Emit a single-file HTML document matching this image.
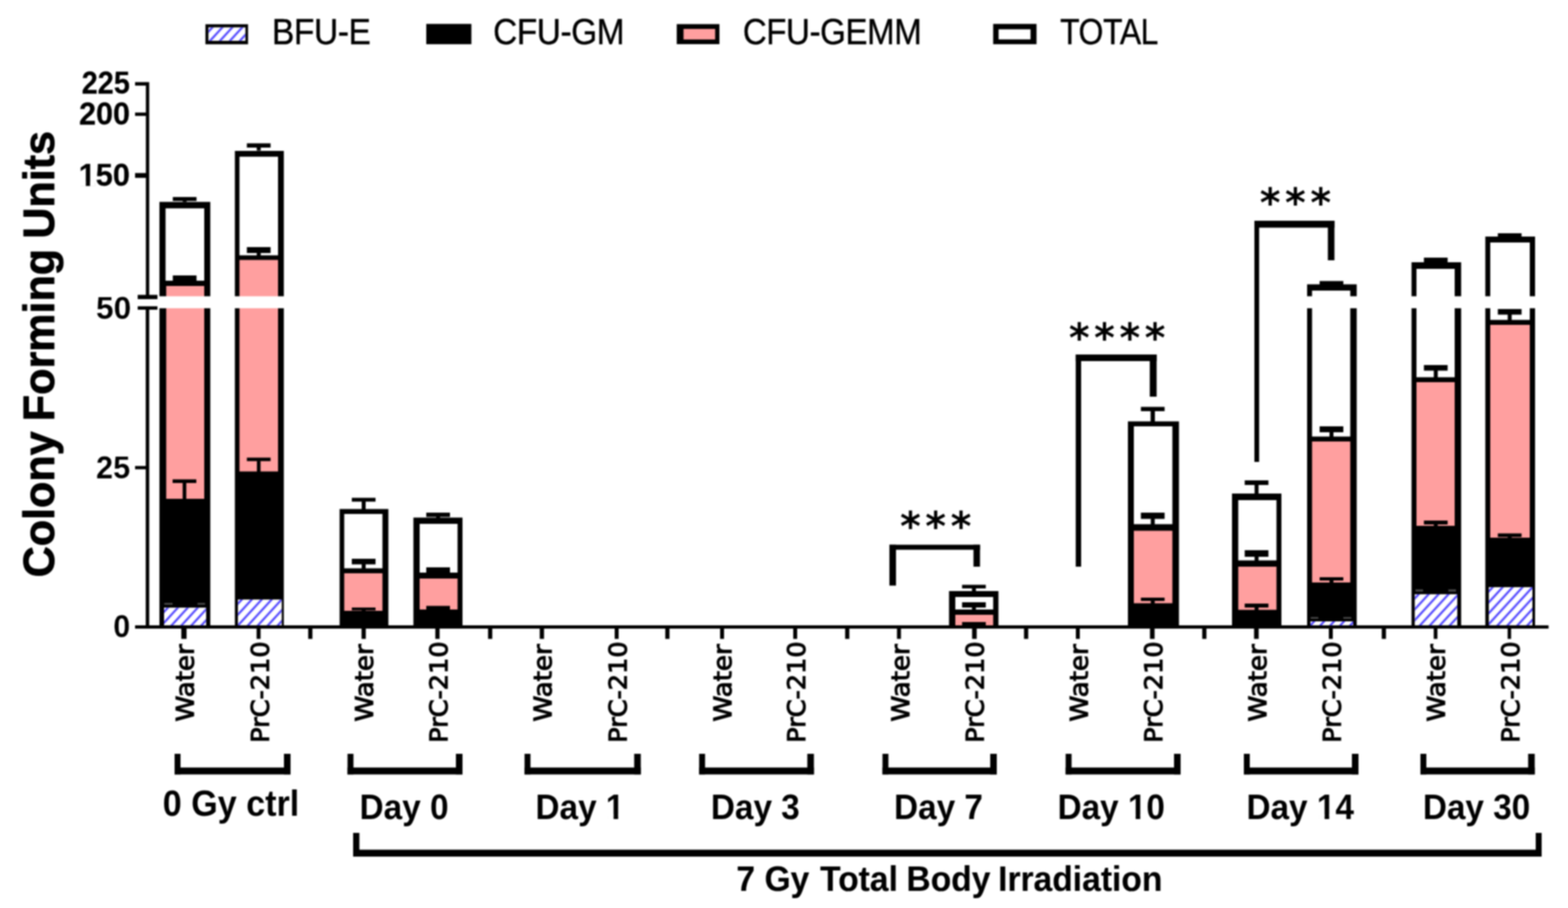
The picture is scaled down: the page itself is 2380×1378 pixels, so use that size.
<!DOCTYPE html>
<html lang="en">
<head>
<meta charset="utf-8">
<title>Colony Forming Units</title>
<style>
html,body{margin:0;padding:0;background:#fff;}
body{width:2380px;height:1378px;overflow:hidden;}
svg{display:block;filter:blur(0.9px);}
text{fill:#000;}
</style>
</head>
<body>
<svg width="2380" height="1378" viewBox="0 0 2380 1378">
<defs>
<pattern id="h" patternUnits="userSpaceOnUse" width="15.1" height="16.5">
<rect width="15.1" height="16.5" fill="#fff"/>
<path d="M-15.10 6.20 L30.20 -43.30 M-15.10 22.70 L30.20 -26.80 M-15.10 39.20 L30.20 -10.30 M-15.10 55.70 L30.20 6.20" stroke="#5046ff" stroke-width="3.2" fill="none"/>
</pattern>
</defs>
<rect width="2380" height="1378" fill="#fff"/>
<g id="legend">
<rect x="311.8" y="36.8" width="64.7" height="30.4" fill="#000"/>
<g transform="translate(316.60 41.70)"><rect width="55.70" height="20.10" fill="#fff"/><rect width="55.70" height="20.10" fill="url(#h)"/></g>
<rect x="647" y="36.3" width="68.5" height="30.8" fill="#000"/>
<rect x="1027.2" y="36.6" width="64.8" height="30.4" fill="#000"/><rect x="1037.5" y="43.9" width="48" height="16" fill="#ff9f9f"/>
<rect x="1507.5" y="36.3" width="65.8" height="30.8" fill="#000"/><rect x="1515.7" y="44.5" width="48.5" height="15.3" fill="#fff"/>
</g>
<g id="chart" shape-rendering="geometricPrecision">
<rect x="242.00" y="306.40" width="77.20" height="643.60" fill="#000"/>
<rect x="251.30" y="316.20" width="58.70" height="109.80" fill="#fff"/>
<rect x="252.30" y="434.00" width="57.70" height="323.00" fill="#ff9f9f"/>
<g transform="translate(249.00 922.40)"><rect width="63.70" height="26.60" fill="#fff"/><rect width="63.70" height="26.60" fill="url(#h)"/></g>
<rect x="262.30" y="299.00" width="36.00" height="6.00" fill="#000"/>
<rect x="277.30" y="304.50" width="6.00" height="2.00" fill="#000"/>
<rect x="262.30" y="418.00" width="36.00" height="8.50" fill="#000"/>
<rect x="262.00" y="727.50" width="36.00" height="5.50" fill="#000"/>
<rect x="277.25" y="732.50" width="5.50" height="25.00" fill="#000"/>
<rect x="249.40" y="915.00" width="12.60" height="2.70" fill="#4a4a4a"/>
<rect x="299.80" y="915.00" width="11.50" height="2.70" fill="#4a4a4a"/>
<rect x="356.50" y="229.00" width="74.30" height="721.00" fill="#000"/>
<rect x="363.50" y="237.80" width="58.50" height="149.70" fill="#fff"/>
<rect x="363.50" y="394.50" width="58.50" height="321.00" fill="#ff9f9f"/>
<g transform="translate(361.30 909.90)"><rect width="66.10" height="39.10" fill="#fff"/><rect width="66.10" height="39.10" fill="url(#h)"/></g>
<rect x="374.70" y="217.50" width="36.00" height="6.50" fill="#000"/>
<rect x="389.70" y="223.50" width="6.00" height="5.00" fill="#000"/>
<rect x="374.70" y="375.00" width="36.00" height="9.00" fill="#000"/>
<rect x="389.70" y="383.50" width="6.00" height="5.00" fill="#000"/>
<rect x="374.70" y="694.50" width="36.00" height="5.30" fill="#000"/>
<rect x="389.95" y="699.30" width="5.50" height="16.70" fill="#000"/>
<rect x="515.50" y="772.50" width="74.00" height="177.50" fill="#000"/>
<rect x="522.50" y="780.00" width="58.00" height="82.50" fill="#fff"/>
<rect x="522.50" y="870.00" width="58.00" height="57.00" fill="#ff9f9f"/>
<rect x="534.00" y="755.50" width="36.00" height="5.80" fill="#000"/>
<rect x="549.00" y="760.80" width="6.00" height="12.70" fill="#000"/>
<rect x="534.00" y="848.00" width="36.00" height="8.50" fill="#000"/>
<rect x="549.00" y="856.00" width="6.00" height="7.50" fill="#000"/>
<rect x="534.00" y="922.00" width="36.00" height="4.30" fill="#000"/>
<rect x="549.00" y="925.80" width="6.00" height="1.70" fill="#000"/>
<rect x="627.50" y="785.50" width="74.50" height="164.50" fill="#000"/>
<rect x="637.00" y="795.00" width="57.50" height="74.00" fill="#fff"/>
<rect x="637.00" y="878.00" width="57.50" height="47.00" fill="#ff9f9f"/>
<rect x="647.00" y="778.00" width="36.00" height="6.50" fill="#000"/>
<rect x="662.00" y="784.00" width="6.00" height="2.50" fill="#000"/>
<rect x="647.00" y="861.00" width="36.00" height="8.00" fill="#000"/>
<rect x="647.00" y="919.50" width="36.00" height="5.50" fill="#000"/>
<rect x="1440.50" y="897.00" width="75.00" height="53.00" fill="#000"/>
<rect x="1450.00" y="906.00" width="57.50" height="19.00" fill="#fff"/>
<rect x="1450.00" y="933.00" width="57.50" height="16.00" fill="#ff9f9f"/>
<rect x="1460.30" y="887.50" width="36.00" height="5.50" fill="#000"/>
<rect x="1475.30" y="892.50" width="6.00" height="5.00" fill="#000"/>
<rect x="1460.30" y="914.00" width="36.00" height="8.00" fill="#000"/>
<rect x="1475.30" y="921.50" width="6.00" height="4.00" fill="#000"/>
<rect x="1460.30" y="944.00" width="36.00" height="5.00" fill="#000"/>
<rect x="1712.00" y="639.50" width="77.50" height="310.50" fill="#000"/>
<rect x="1721.00" y="647.00" width="58.50" height="148.50" fill="#fff"/>
<rect x="1721.00" y="805.50" width="58.50" height="110.00" fill="#ff9f9f"/>
<rect x="1731.70" y="617.50" width="36.00" height="6.50" fill="#000"/>
<rect x="1746.45" y="623.50" width="6.50" height="17.00" fill="#000"/>
<rect x="1731.70" y="778.00" width="36.00" height="9.50" fill="#000"/>
<rect x="1746.70" y="787.00" width="6.00" height="9.50" fill="#000"/>
<rect x="1731.70" y="907.00" width="36.00" height="5.00" fill="#000"/>
<rect x="1746.70" y="911.50" width="6.00" height="5.00" fill="#000"/>
<rect x="1870.00" y="749.00" width="75.00" height="201.00" fill="#000"/>
<rect x="1879.50" y="759.00" width="58.00" height="91.50" fill="#fff"/>
<rect x="1879.50" y="860.00" width="58.00" height="65.50" fill="#ff9f9f"/>
<rect x="1889.30" y="729.00" width="36.00" height="7.00" fill="#000"/>
<rect x="1904.30" y="735.50" width="6.00" height="14.00" fill="#000"/>
<rect x="1889.30" y="835.00" width="36.00" height="10.00" fill="#000"/>
<rect x="1904.30" y="844.50" width="6.00" height="7.00" fill="#000"/>
<rect x="1889.30" y="916.00" width="36.00" height="6.00" fill="#000"/>
<rect x="1904.30" y="921.50" width="6.00" height="5.00" fill="#000"/>
<rect x="1984.00" y="431.50" width="75.30" height="518.50" fill="#000"/>
<rect x="1991.50" y="441.00" width="58.00" height="221.50" fill="#fff"/>
<rect x="1991.50" y="670.00" width="58.00" height="214.00" fill="#ff9f9f"/>
<g transform="translate(1989.00 943.00)"><rect width="65.00" height="6.00" fill="#fff"/><rect width="65.00" height="6.00" fill="url(#h)"/></g>
<rect x="2003.00" y="426.50" width="36.00" height="5.50" fill="#000"/>
<rect x="2003.00" y="647.00" width="36.00" height="9.00" fill="#000"/>
<rect x="2018.00" y="655.50" width="6.00" height="8.00" fill="#000"/>
<rect x="2003.00" y="876.00" width="36.00" height="5.00" fill="#000"/>
<rect x="2018.00" y="880.50" width="6.00" height="4.00" fill="#000"/>
<rect x="1989.50" y="936.50" width="11.50" height="2.50" fill="#4a4a4a"/>
<rect x="2039.00" y="936.50" width="12.00" height="2.50" fill="#4a4a4a"/>
<rect x="2142.50" y="398.00" width="75.30" height="552.00" fill="#000"/>
<rect x="2150.00" y="408.00" width="58.00" height="164.50" fill="#fff"/>
<rect x="2150.00" y="580.00" width="58.00" height="218.00" fill="#ff9f9f"/>
<g transform="translate(2147.60 901.90)"><rect width="64.20" height="47.10" fill="#fff"/><rect width="64.20" height="47.10" fill="url(#h)"/></g>
<rect x="2161.30" y="391.00" width="36.00" height="8.00" fill="#000"/>
<rect x="2161.30" y="554.00" width="36.00" height="8.50" fill="#000"/>
<rect x="2176.30" y="562.00" width="6.00" height="11.50" fill="#000"/>
<rect x="2161.30" y="790.00" width="36.00" height="6.00" fill="#000"/>
<rect x="2176.30" y="795.50" width="6.00" height="3.00" fill="#000"/>
<rect x="2148.50" y="894.50" width="11.50" height="3.20" fill="#4a4a4a"/>
<rect x="2198.40" y="894.50" width="11.60" height="3.20" fill="#4a4a4a"/>
<rect x="2254.50" y="359.00" width="75.50" height="591.00" fill="#000"/>
<rect x="2262.00" y="368.00" width="60.00" height="117.50" fill="#fff"/>
<rect x="2262.00" y="493.00" width="60.00" height="323.00" fill="#ff9f9f"/>
<g transform="translate(2259.90 891.30)"><rect width="66.10" height="57.70" fill="#fff"/><rect width="66.10" height="57.70" fill="url(#h)"/></g>
<rect x="2273.50" y="354.00" width="36.00" height="5.50" fill="#000"/>
<rect x="2288.50" y="359.00" width="6.00" height="1.50" fill="#000"/>
<rect x="2273.50" y="469.00" width="36.00" height="8.50" fill="#000"/>
<rect x="2288.50" y="477.00" width="6.00" height="9.50" fill="#000"/>
<rect x="2273.50" y="809.50" width="36.00" height="5.50" fill="#000"/>
<rect x="2288.50" y="814.50" width="6.00" height="2.00" fill="#000"/>
<rect x="232.00" y="449.60" width="2113.00" height="18.20" fill="#fff"/>
<rect x="221.40" y="124.60" width="5.10" height="325.90" fill="#000"/>
<rect x="221.20" y="467.00" width="5.30" height="487.00" fill="#000"/>
<rect x="205.00" y="949.00" width="2145.50" height="5.00" fill="#000"/>
<rect x="205.00" y="124.60" width="17.00" height="5.30" fill="#000"/>
<rect x="205.00" y="170.80" width="17.00" height="5.10" fill="#000"/>
<rect x="205.00" y="262.60" width="17.00" height="7.30" fill="#000"/>
<rect x="205.00" y="707.20" width="17.00" height="5.00" fill="#000"/>
<rect x="209.00" y="447.50" width="30.00" height="6.50" fill="#000"/>
<rect x="209.00" y="464.80" width="30.00" height="5.20" fill="#000"/>
<rect x="275.20" y="953.00" width="8.00" height="16.60" fill="#000"/>
<rect x="389.50" y="953.00" width="6.00" height="16.60" fill="#000"/>
<rect x="548.75" y="953.00" width="6.50" height="16.60" fill="#000"/>
<rect x="660.75" y="953.00" width="6.50" height="16.60" fill="#000"/>
<rect x="819.25" y="953.00" width="6.50" height="16.60" fill="#000"/>
<rect x="933.00" y="953.00" width="6.00" height="16.60" fill="#000"/>
<rect x="1093.00" y="953.00" width="6.00" height="16.60" fill="#000"/>
<rect x="1204.00" y="953.00" width="6.00" height="16.60" fill="#000"/>
<rect x="1361.50" y="953.00" width="6.00" height="16.60" fill="#000"/>
<rect x="1475.50" y="953.00" width="7.00" height="16.60" fill="#000"/>
<rect x="1633.00" y="953.00" width="6.00" height="16.60" fill="#000"/>
<rect x="1745.50" y="953.00" width="7.00" height="16.60" fill="#000"/>
<rect x="1903.50" y="953.00" width="7.00" height="16.60" fill="#000"/>
<rect x="2017.00" y="953.00" width="6.00" height="16.60" fill="#000"/>
<rect x="2176.20" y="953.00" width="5.60" height="16.60" fill="#000"/>
<rect x="2288.40" y="953.00" width="5.20" height="16.60" fill="#000"/>
<rect x="467.80" y="953.00" width="6.40" height="16.60" fill="#000"/>
<rect x="740.80" y="953.00" width="6.40" height="16.60" fill="#000"/>
<rect x="1009.80" y="953.00" width="6.40" height="16.60" fill="#000"/>
<rect x="1282.80" y="953.00" width="6.40" height="16.60" fill="#000"/>
<rect x="1554.30" y="953.00" width="6.40" height="16.60" fill="#000"/>
<rect x="1824.80" y="953.00" width="6.40" height="16.60" fill="#000"/>
<rect x="2097.30" y="953.00" width="6.40" height="16.60" fill="#000"/>
<rect x="1350.00" y="826.70" width="10.00" height="62.00" fill="#000"/>
<rect x="1350.00" y="826.70" width="137.50" height="7.60" fill="#000"/>
<rect x="1477.60" y="826.70" width="9.90" height="33.30" fill="#000"/>
<rect x="1632.80" y="538.00" width="8.20" height="322.00" fill="#000"/>
<rect x="1632.80" y="538.00" width="122.80" height="10.00" fill="#000"/>
<rect x="1745.20" y="538.00" width="10.40" height="64.00" fill="#000"/>
<rect x="1904.00" y="335.00" width="7.20" height="366.00" fill="#000"/>
<rect x="1904.00" y="335.00" width="121.50" height="10.50" fill="#000"/>
<rect x="2015.50" y="335.00" width="10.00" height="60.00" fill="#000"/>
<rect x="265.00" y="1144.00" width="9.00" height="31.30" fill="#000"/>
<rect x="431.00" y="1144.00" width="10.00" height="31.30" fill="#000"/>
<rect x="265.00" y="1164.80" width="176.00" height="10.50" fill="#000"/>
<rect x="527.50" y="1144.00" width="9.00" height="31.30" fill="#000"/>
<rect x="692.00" y="1144.00" width="10.00" height="31.30" fill="#000"/>
<rect x="527.50" y="1164.80" width="174.50" height="10.50" fill="#000"/>
<rect x="796.20" y="1144.00" width="9.00" height="31.30" fill="#000"/>
<rect x="962.60" y="1144.00" width="10.00" height="31.30" fill="#000"/>
<rect x="796.20" y="1164.80" width="176.40" height="10.50" fill="#000"/>
<rect x="1061.20" y="1144.00" width="9.00" height="31.30" fill="#000"/>
<rect x="1225.40" y="1144.00" width="10.00" height="31.30" fill="#000"/>
<rect x="1061.20" y="1164.80" width="174.20" height="10.50" fill="#000"/>
<rect x="1339.50" y="1144.00" width="9.00" height="31.30" fill="#000"/>
<rect x="1503.00" y="1144.00" width="10.00" height="31.30" fill="#000"/>
<rect x="1339.50" y="1164.80" width="173.50" height="10.50" fill="#000"/>
<rect x="1617.50" y="1144.00" width="9.00" height="31.30" fill="#000"/>
<rect x="1782.00" y="1144.00" width="10.00" height="31.30" fill="#000"/>
<rect x="1617.50" y="1164.80" width="174.50" height="10.50" fill="#000"/>
<rect x="1888.00" y="1144.00" width="9.00" height="31.30" fill="#000"/>
<rect x="2052.00" y="1144.00" width="10.00" height="31.30" fill="#000"/>
<rect x="1888.00" y="1164.80" width="174.00" height="10.50" fill="#000"/>
<rect x="2156.00" y="1144.00" width="9.00" height="31.30" fill="#000"/>
<rect x="2319.50" y="1144.00" width="10.00" height="31.30" fill="#000"/>
<rect x="2156.00" y="1164.80" width="173.50" height="10.50" fill="#000"/>
<rect x="536.00" y="1264.00" width="9.50" height="36.00" fill="#000"/>
<rect x="2331.00" y="1264.00" width="9.00" height="36.00" fill="#000"/>
<rect x="536.00" y="1289.50" width="1804.00" height="10.50" fill="#000"/>
</g>
<g id="labels">
<g transform="translate(412.80 67.20) scale(1.0200 1.1200)"><text id="t1" font-family="'Liberation Sans', Arial, Helvetica, sans-serif" font-size="50" font-weight="400" text-anchor="start" stroke="#000" stroke-width="0.5" letter-spacing="-0.7">BFU-E</text></g>
<g transform="translate(748.60 67.20) scale(1.0150 1.1200)"><text id="t2" font-family="'Liberation Sans', Arial, Helvetica, sans-serif" font-size="50" font-weight="400" text-anchor="start" stroke="#000" stroke-width="0.5" letter-spacing="-0.7">CFU-GM</text></g>
<g transform="translate(1127.40 67.20) scale(1.0070 1.1200)"><text id="t3" font-family="'Liberation Sans', Arial, Helvetica, sans-serif" font-size="50" font-weight="400" text-anchor="start" stroke="#000" stroke-width="0.5" letter-spacing="-0.7">CFU-GEMM</text></g>
<g transform="translate(1609.00 67.20) scale(0.9720 1.1200)"><text id="t4" font-family="'Liberation Sans', Arial, Helvetica, sans-serif" font-size="50" font-weight="400" text-anchor="start" stroke="#000" stroke-width="0.5" letter-spacing="-0.7">TOTAL</text></g>
<g transform="translate(197.20 142.00) scale(0.9550 1.0600)"><text id="t5" font-family="'Liberation Sans', Arial, Helvetica, sans-serif" font-size="46" font-weight="700" text-anchor="end" stroke="#000" stroke-width="0.3">225</text></g>
<g transform="translate(197.30 189.40) scale(1.0080 1.0550)"><text id="t6" font-family="'Liberation Sans', Arial, Helvetica, sans-serif" font-size="46" font-weight="700" text-anchor="end" stroke="#000" stroke-width="0.3">200</text></g>
<g transform="translate(197.30 281.90) scale(1.0150 1.0550)"><text id="t7" font-family="'Liberation Sans', Arial, Helvetica, sans-serif" font-size="46" font-weight="700" text-anchor="end" stroke="#000" stroke-width="0.3">150</text><rect x="-74.54" y="-5.29" width="8.54" height="6.09" fill="#fff"/><rect x="-59.69" y="-5.29" width="7.95" height="6.09" fill="#fff"/></g>
<g transform="translate(199.00 484.00) scale(1.0400 1.0300)"><text id="t8" font-family="'Liberation Sans', Arial, Helvetica, sans-serif" font-size="46" font-weight="700" text-anchor="end" stroke="#fff" stroke-width="0.15">50</text></g>
<g transform="translate(197.50 726.00) scale(1.0100 1.0300)"><text id="t9" font-family="'Liberation Sans', Arial, Helvetica, sans-serif" font-size="46" font-weight="700" text-anchor="end" stroke="#fff" stroke-width="0.15">25</text></g>
<g transform="translate(197.50 967.00) scale(1.0000 1.0300)"><text id="t10" font-family="'Liberation Sans', Arial, Helvetica, sans-serif" font-size="46" font-weight="700" text-anchor="end" stroke="#fff" stroke-width="0.15">0</text></g>
<g transform="translate(81.90 537.50) rotate(-90) scale(0.9980 1.0200)"><text id="t11" font-family="'Liberation Sans', Arial, Helvetica, sans-serif" font-size="65.5" font-weight="700" text-anchor="middle" word-spacing="-2.6" stroke="#000" stroke-width="1.1" stroke-linejoin="round">Colony Forming Units</text></g>
<g transform="translate(350.60 1238.00) scale(1.0150 1.0700)"><text id="t12" font-family="'Liberation Sans', Arial, Helvetica, sans-serif" font-size="51" font-weight="700" text-anchor="middle">0 Gy ctrl</text></g>
<g transform="translate(613.30 1242.50) scale(0.9920 1.0700)"><text id="t13" font-family="'Liberation Sans', Arial, Helvetica, sans-serif" font-size="51" font-weight="700" text-anchor="middle">Day 0</text></g>
<g transform="translate(880.20 1242.50) scale(0.9920 1.0700)"><text id="t14" font-family="'Liberation Sans', Arial, Helvetica, sans-serif" font-size="51" font-weight="700" text-anchor="middle">Day 1</text><rect x="42.18" y="-5.80" width="9.39" height="6.60" fill="#fff"/><rect x="58.57" y="-5.80" width="8.74" height="6.60" fill="#fff"/></g>
<g transform="translate(1146.50 1242.50) scale(0.9920 1.0700)"><text id="t15" font-family="'Liberation Sans', Arial, Helvetica, sans-serif" font-size="51" font-weight="700" text-anchor="middle">Day 3</text></g>
<g transform="translate(1424.50 1242.50) scale(0.9920 1.0700)"><text id="t16" font-family="'Liberation Sans', Arial, Helvetica, sans-serif" font-size="51" font-weight="700" text-anchor="middle">Day 7</text></g>
<g transform="translate(1686.70 1242.50) scale(0.9920 1.0700)"><text id="t17" font-family="'Liberation Sans', Arial, Helvetica, sans-serif" font-size="51" font-weight="700" text-anchor="middle">Day 10</text><rect x="28.00" y="-5.80" width="9.39" height="6.60" fill="#fff"/><rect x="44.39" y="-5.80" width="8.74" height="6.60" fill="#fff"/></g>
<g transform="translate(1973.50 1242.50) scale(0.9920 1.0700)"><text id="t18" font-family="'Liberation Sans', Arial, Helvetica, sans-serif" font-size="51" font-weight="700" text-anchor="middle">Day 14</text><rect x="28.00" y="-5.80" width="9.39" height="6.60" fill="#fff"/><rect x="44.39" y="-5.80" width="8.74" height="6.60" fill="#fff"/></g>
<g transform="translate(2241.20 1242.50) scale(0.9920 1.0700)"><text id="t19" font-family="'Liberation Sans', Arial, Helvetica, sans-serif" font-size="51" font-weight="700" text-anchor="middle">Day 30</text></g>
<g transform="translate(1441.00 1351.80) scale(1.0000 1.0450)"><text id="t20" font-family="'Liberation Sans', Arial, Helvetica, sans-serif" font-size="51" font-weight="700" text-anchor="start" stroke="#000" stroke-width="0.2" stroke-linejoin="round"><tspan x="-323.27">7</tspan> <tspan x="-280.56">Gy</tspan> <tspan x="-196.15">Total</tspan> <tspan x="-65.15">Body</tspan> <tspan x="74.00">Irradiation</tspan></text></g>
<g transform="translate(294.20 977.60) rotate(-90) scale(0.9940 0.9250)"><text id="t21" font-family="'DejaVu Sans', Verdana, sans-serif" font-size="40" font-weight="400" text-anchor="end" stroke="#000" stroke-width="1.5">Water</text></g>
<g transform="translate(407.70 973.40) rotate(-90) scale(0.9700 0.9500)"><text id="t22" font-family="'DejaVu Sans', Verdana, sans-serif" font-size="40" font-weight="400" text-anchor="end" stroke="#000" stroke-width="1.5">PrC-210</text></g>
<g transform="translate(566.40 977.60) rotate(-90) scale(0.9940 0.9250)"><text id="t23" font-family="'DejaVu Sans', Verdana, sans-serif" font-size="40" font-weight="400" text-anchor="end" stroke="#000" stroke-width="1.5">Water</text></g>
<g transform="translate(679.20 973.40) rotate(-90) scale(0.9700 0.9500)"><text id="t24" font-family="'DejaVu Sans', Verdana, sans-serif" font-size="40" font-weight="400" text-anchor="end" stroke="#000" stroke-width="1.5">PrC-210</text></g>
<g transform="translate(837.20 977.60) rotate(-90) scale(0.9940 0.9250)"><text id="t25" font-family="'DejaVu Sans', Verdana, sans-serif" font-size="40" font-weight="400" text-anchor="end" stroke="#000" stroke-width="1.5">Water</text></g>
<g transform="translate(950.70 973.40) rotate(-90) scale(0.9700 0.9500)"><text id="t26" font-family="'DejaVu Sans', Verdana, sans-serif" font-size="40" font-weight="400" text-anchor="end" stroke="#000" stroke-width="1.5">PrC-210</text></g>
<g transform="translate(1110.20 977.60) rotate(-90) scale(0.9940 0.9250)"><text id="t27" font-family="'DejaVu Sans', Verdana, sans-serif" font-size="40" font-weight="400" text-anchor="end" stroke="#000" stroke-width="1.5">Water</text></g>
<g transform="translate(1222.00 973.40) rotate(-90) scale(0.9700 0.9500)"><text id="t28" font-family="'DejaVu Sans', Verdana, sans-serif" font-size="40" font-weight="400" text-anchor="end" stroke="#000" stroke-width="1.5">PrC-210</text></g>
<g transform="translate(1379.50 977.60) rotate(-90) scale(0.9940 0.9250)"><text id="t29" font-family="'DejaVu Sans', Verdana, sans-serif" font-size="40" font-weight="400" text-anchor="end" stroke="#000" stroke-width="1.5">Water</text></g>
<g transform="translate(1493.00 973.40) rotate(-90) scale(0.9700 0.9500)"><text id="t30" font-family="'DejaVu Sans', Verdana, sans-serif" font-size="40" font-weight="400" text-anchor="end" stroke="#000" stroke-width="1.5">PrC-210</text></g>
<g transform="translate(1650.70 977.60) rotate(-90) scale(0.9940 0.9250)"><text id="t31" font-family="'DejaVu Sans', Verdana, sans-serif" font-size="40" font-weight="400" text-anchor="end" stroke="#000" stroke-width="1.5">Water</text></g>
<g transform="translate(1764.40 973.40) rotate(-90) scale(0.9700 0.9500)"><text id="t32" font-family="'DejaVu Sans', Verdana, sans-serif" font-size="40" font-weight="400" text-anchor="end" stroke="#000" stroke-width="1.5">PrC-210</text></g>
<g transform="translate(1922.00 977.60) rotate(-90) scale(0.9940 0.9250)"><text id="t33" font-family="'DejaVu Sans', Verdana, sans-serif" font-size="40" font-weight="400" text-anchor="end" stroke="#000" stroke-width="1.5">Water</text></g>
<g transform="translate(2035.00 973.40) rotate(-90) scale(0.9700 0.9500)"><text id="t34" font-family="'DejaVu Sans', Verdana, sans-serif" font-size="40" font-weight="400" text-anchor="end" stroke="#000" stroke-width="1.5">PrC-210</text></g>
<g transform="translate(2193.40 977.60) rotate(-90) scale(0.9940 0.9250)"><text id="t35" font-family="'DejaVu Sans', Verdana, sans-serif" font-size="40" font-weight="400" text-anchor="end" stroke="#000" stroke-width="1.5">Water</text></g>
<g transform="translate(2306.00 973.40) rotate(-90) scale(0.9700 0.9500)"><text id="t36" font-family="'DejaVu Sans', Verdana, sans-serif" font-size="40" font-weight="400" text-anchor="end" stroke="#000" stroke-width="1.5">PrC-210</text></g>
<g transform="translate(1423.70 820.00)"><text id="t37" font-family="'DejaVu Sans', Verdana, sans-serif" font-size="60" font-weight="700" text-anchor="middle" letter-spacing="7.0">***</text></g>
<g transform="translate(1699.20 534.00)"><text id="t38" font-family="'DejaVu Sans', Verdana, sans-serif" font-size="60" font-weight="700" text-anchor="middle" letter-spacing="7.0">****</text></g>
<g transform="translate(1969.70 328.50)"><text id="t39" font-family="'DejaVu Sans', Verdana, sans-serif" font-size="60" font-weight="700" text-anchor="middle" letter-spacing="7.0">***</text></g>
</g>
</svg>
</body>
</html>
